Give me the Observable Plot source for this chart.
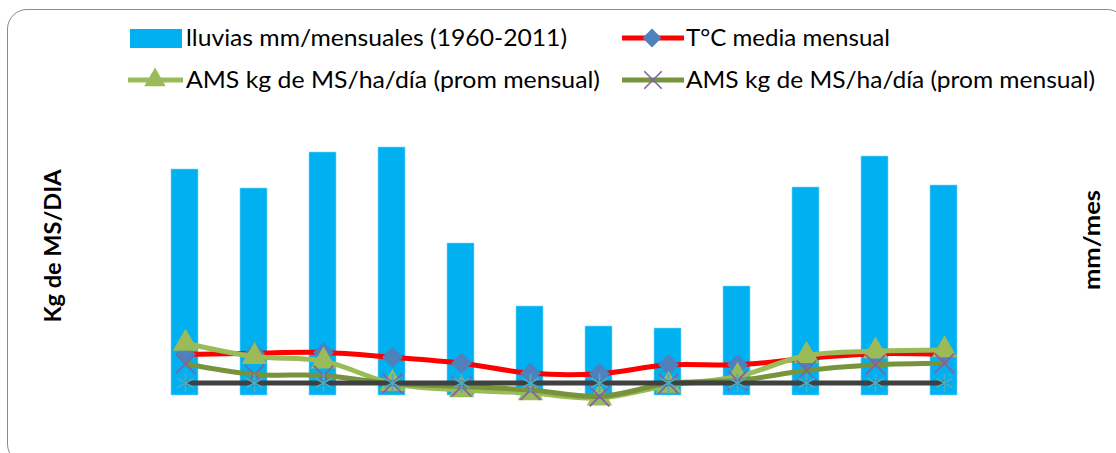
<!DOCTYPE html>
<html>
<head>
<meta charset="utf-8">
<script src="https://cdn.jsdelivr.net/npm/d3@7"></script>
<script src="https://cdn.jsdelivr.net/npm/@observablehq/plot@0.6"></script>
<style>
  html, body { margin: 0; padding: 0; background: #fff; }
  #wrap { position: relative; width: 1116px; height: 453px; overflow: hidden; background: #fff; }
  #frame { position: absolute; left: 7px; top: 9px; width: 1120px; height: 455px;
           border: 1.6px solid #8a8a8a; border-radius: 20px; box-sizing: border-box; }
  .layer { position: absolute; left: 0; top: 0; }
  .layer svg { overflow: visible; }
</style>
</head>
<body>
<div id="wrap">
  <div id="frame"></div>
  <div id="bars" class="layer"></div>
  <div id="lines" class="layer"></div>
  <div id="legend" class="layer"></div>
</div>
<script>
// ---- data ----
const months = ["Ene","Feb","Mar","Abr","May","Jun","Jul","Ago","Sep","Oct","Nov","Dic"];
const lluvias = [113, 103.5, 121.5, 124, 76, 44.5, 34.5, 33.5, 54.5, 104, 119.5, 105]; // mm/mes
const temperatura = [26.3, 27.0, 27.4, 24.7, 21.3, 15.6, 15.3, 20.4, 20.4, 24.0, 26.7, 26.3]; // °C
const ams1 = [32.7, 25.1, 22.5, 9.7, 6.0, 4.3, 1.4, 8.6, 13.7, 25.7, 28.2, 28.9]; // kg MS/ha/día
const ams2 = [21.0, 14.9, 14.3, 9.7, 8.0, 6.0, 2.3, 9.7, 11.4, 17.1, 20.4, 21.3]; // kg MS/ha/día
const referencia = [10, 10, 10, 10, 10, 10, 10, 10, 10, 10, 10, 10];

const legendLabels = ["lluvias mm/mensuales (1960-2011)", "T°C media mensual",
  "AMS kg de MS/ha/día (prom mensual)", "AMS kg de MS/ha/día (prom mensual)"];
const yLeftTitle = "Kg de MS/DIA";
const yRightTitle = "mm/mes";

const C = { bar: "#00B0F0", temp: "#FF0000", diamond: "#4F81BD", ams1: "#9BBB59",
            ams2: "#77933C", times: "#8064A2", ref: "#404040", star: "#4BACC6" };

const W = 1116, H = 453;
const rows = months.map((m, i) => ({ m, lluvia: lluvias[i], t: temperatura[i], a1: ams1[i], a2: ams2[i], r: referencia[i] }));

// ---- bars (right axis, mm/mes) ----
const barsPlot = Plot.plot({
  width: W, height: H,
  marginLeft: 150, marginRight: W - 978, marginTop: 115, marginBottom: H - 395,
  x: { type: "band", domain: months, paddingInner: 0.61, paddingOuter: 0.305, axis: null },
  y: { domain: [0, 140], axis: null },
  style: { background: "transparent" },
  marks: [
    Plot.barY(rows, { x: "m", y: "lluvia", fill: C.bar, stroke: "#7fd7f7", strokeWidth: 0.6 })
  ]
});
document.getElementById("bars").appendChild(barsPlot);

// ---- lines (left axis) ----
const curve = "catmull-rom";
const linesPlot = Plot.plot({
  width: W, height: H,
  marginLeft: 150, marginRight: W - 978, marginTop: 120, marginBottom: H - 400,
  x: { type: "point", domain: months, padding: 0.5, axis: null },
  y: { domain: [0, 160], axis: null },
  style: { background: "transparent" },
  marks: [
    Plot.line(rows, { x: "m", y: "t", stroke: C.temp, strokeWidth: 5, curve }),
    Plot.dot(rows, { x: "m", y: "t", symbol: "diamond2", r: 8.5, fill: C.diamond, stroke: C.diamond }),
    Plot.line(rows, { x: "m", y: "a1", stroke: C.ams1, strokeWidth: 5, curve }),
    Plot.dot(rows, { x: "m", y: "a1", symbol: "triangle", r: 8.5, fill: C.ams1, stroke: C.ams1 }),
    Plot.line(rows, { x: "m", y: "a2", stroke: C.ams2, strokeWidth: 5, curve }),
    Plot.dot(rows, { x: "m", y: "a2", symbol: "times", r: 9, stroke: C.times, strokeWidth: 1.8 }),
    Plot.line(rows, { x: "m", y: "r", stroke: C.ref, strokeWidth: 5 }),
    Plot.dot(rows, { x: "m", y: "r", symbol: "asterisk", r: 9, stroke: C.star, strokeWidth: 1.8 })
  ]
});
document.getElementById("lines").appendChild(linesPlot);

// ---- legend & axis titles ----
const lg = d3.select("#legend").append("svg").attr("width", W).attr("height", H)
  .style("font-family", "Lato, 'Open Sans', sans-serif");

const sym = (type, size) => d3.symbol(type, size)();
// row 1
lg.append("rect").attr("x", 130).attr("y", 29).attr("width", 52).attr("height", 19).attr("fill", C.bar);
lg.append("line").attr("x1", 622).attr("x2", 684).attr("y1", 38).attr("y2", 38).attr("stroke", C.temp).attr("stroke-width", 5);
lg.append("path").attr("d", sym(d3.symbolDiamond2, 230)).attr("transform", "translate(652,38)").attr("fill", C.diamond);
// row 2
lg.append("line").attr("x1", 128).attr("x2", 183).attr("y1", 80).attr("y2", 80).attr("stroke", C.ams1).attr("stroke-width", 5);
lg.append("path").attr("d", sym(d3.symbolTriangle, 200)).attr("transform", "translate(155,80)").attr("fill", C.ams1);
lg.append("line").attr("x1", 622).attr("x2", 684).attr("y1", 80).attr("y2", 80).attr("stroke", C.ams2).attr("stroke-width", 5);
lg.append("path").attr("d", sym(d3.symbolTimes, 200)).attr("transform", "translate(653,80)").attr("stroke", C.times).attr("stroke-width", 1.6).attr("fill", "none");

const pos = [[186, 38, 381], [686, 38, 204], [186, 80, 414], [686, 80, 409]];
legendLabels.forEach((t, i) => {
  lg.append("text").attr("x", pos[i][0]).attr("y", pos[i][1]).attr("dy", "0.35em")
    .attr("font-size", 23.5).attr("fill", "#000")
    .attr("textLength", pos[i][2]).attr("lengthAdjust", "spacingAndGlyphs").text(t);
});

lg.append("text").attr("transform", "translate(53,246) rotate(-90)").attr("text-anchor", "middle")
  .attr("dy", "0.35em").attr("font-size", 23).attr("font-weight", "bold")
  .attr("textLength", 153).attr("lengthAdjust", "spacingAndGlyphs").text(yLeftTitle);
lg.append("text").attr("transform", "translate(1092,240) rotate(-90)").attr("text-anchor", "middle")
  .attr("dy", "0.35em").attr("font-size", 23).attr("font-weight", "bold")
  .attr("textLength", 100).attr("lengthAdjust", "spacingAndGlyphs").text(yRightTitle);
</script>
</body>
</html>
